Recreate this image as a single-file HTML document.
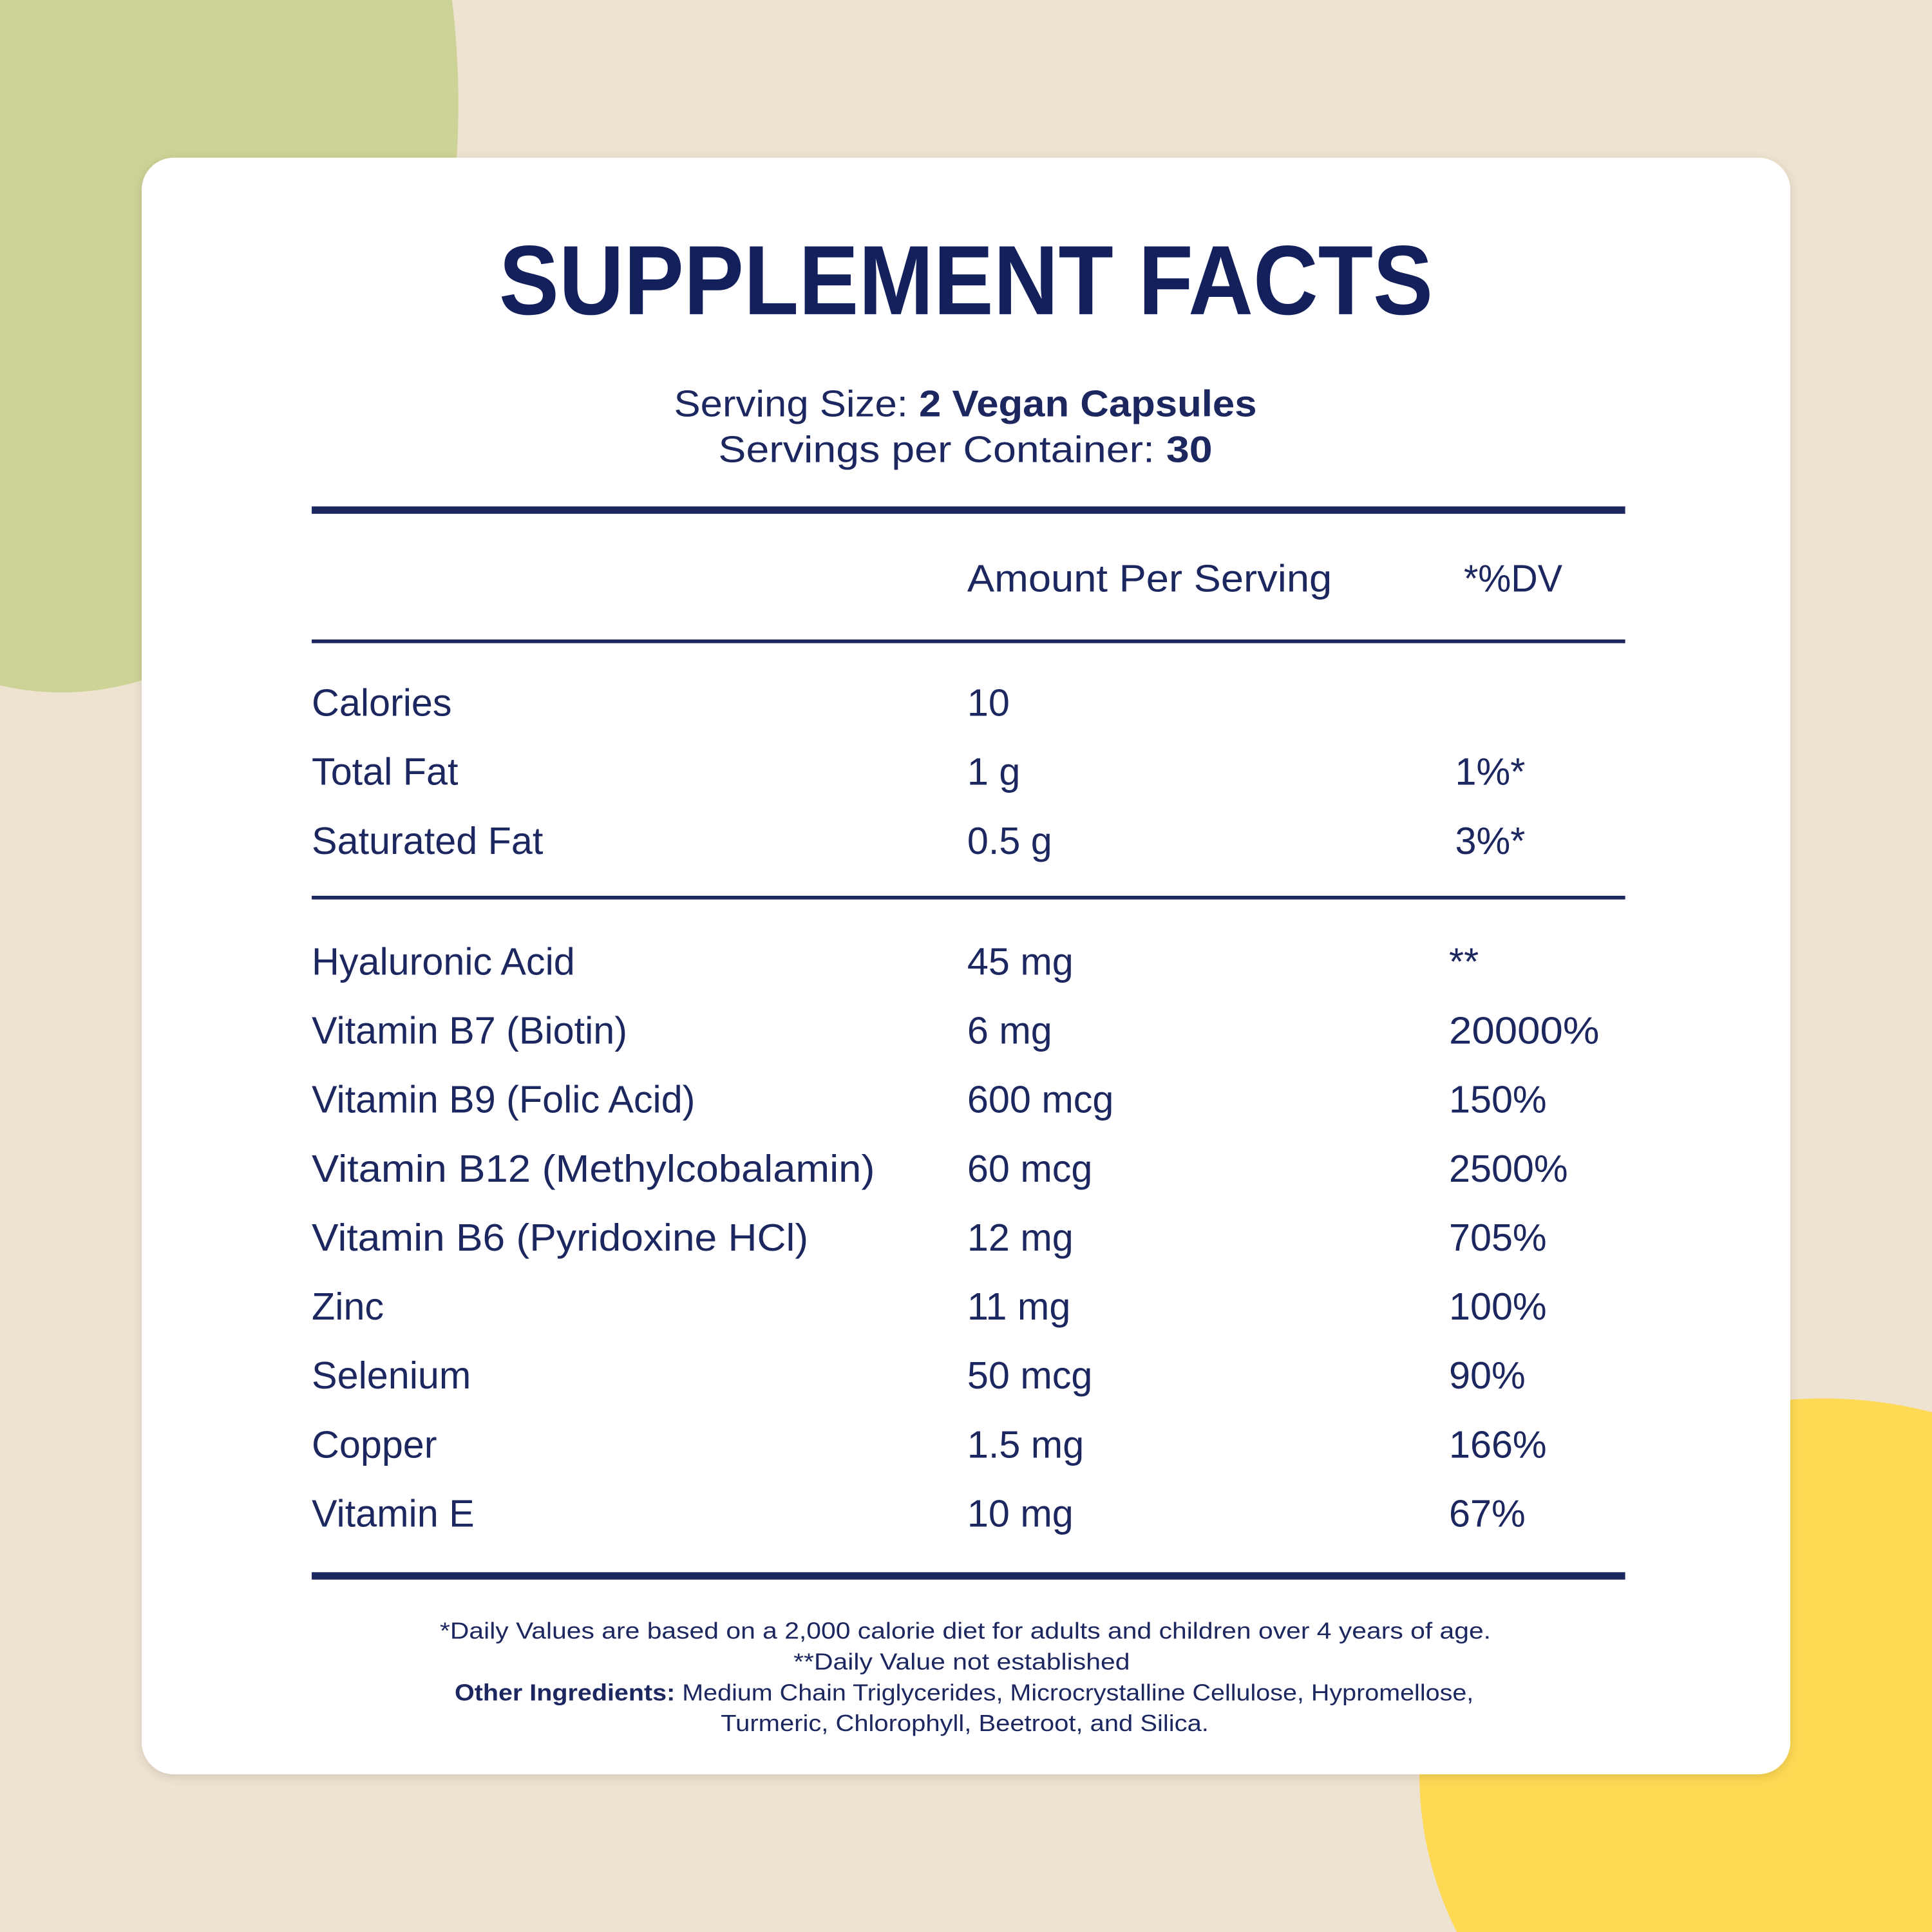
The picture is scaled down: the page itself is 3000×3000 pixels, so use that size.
<!DOCTYPE html>
<html><head><meta charset="utf-8"><style>
html,body{margin:0;padding:0;background:#EEE2D0;width:3000px;height:3000px;overflow:hidden;}
svg{display:block}
text{font-family:"Liberation Sans",sans-serif;fill:#1C2760;}
.r{font-size:31px}
.f{font-size:19px}
</style></head><body>
<svg width="3000" height="3000" viewBox="0 0 1568 1568" xmlns="http://www.w3.org/2000/svg">
<defs><filter id="sh" x="-5%" y="-5%" width="110%" height="110%"><feDropShadow dx="0" dy="2" stdDeviation="4" flood-color="#000" flood-opacity="0.12"/></filter></defs>
<rect width="1568" height="1568" fill="#EEE2D0"/>
<ellipse cx="50" cy="85" rx="322" ry="477" fill="#CDD296"/>
<ellipse cx="1480" cy="1440" rx="328" ry="305" fill="#FED954"/>
<rect x="115" y="128" width="1338" height="1312" rx="26" fill="#fff" filter="url(#sh)"/>
<text x="784" y="255" text-anchor="middle" font-size="80" font-weight="bold" textLength="758" lengthAdjust="spacingAndGlyphs" style="fill:#14205C">SUPPLEMENT FACTS</text>
<text x="547" y="338" font-size="30" textLength="473" lengthAdjust="spacingAndGlyphs">Serving Size: <tspan font-weight="bold">2 Vegan Capsules</tspan></text>
<text x="583" y="375" font-size="30" textLength="401" lengthAdjust="spacingAndGlyphs">Servings per Container: <tspan font-weight="bold">30</tspan></text>
<rect x="253" y="411" width="1066" height="6" fill="#1C2760"/>
<rect x="253" y="519" width="1066" height="3" fill="#1C2760"/>
<rect x="253" y="727" width="1066" height="3" fill="#1C2760"/>
<rect x="253" y="1276" width="1066" height="6" fill="#1C2760"/>
<text class="r" x="785" y="480" textLength="296" lengthAdjust="spacingAndGlyphs">Amount Per Serving</text>
<text class="r" x="1188" y="480" textLength="80" lengthAdjust="spacingAndGlyphs">*%DV</text>
<text class="r" x="253" y="581">Calories</text><text class="r" x="785" y="581">10</text>
<text class="r" x="253" y="637">Total Fat</text><text class="r" x="785" y="637">1 g</text><text class="r" x="1181" y="637">1%*</text>
<text class="r" x="253" y="693">Saturated Fat</text><text class="r" x="785" y="693">0.5 g</text><text class="r" x="1181" y="693">3%*</text>
<text class="r" x="253" y="791">Hyaluronic Acid</text><text class="r" x="785" y="791">45 mg</text><text class="r" x="1176" y="791">**</text>
<text class="r" x="253" y="847">Vitamin B7 (Biotin)</text><text class="r" x="785" y="847">6 mg</text><text class="r" x="1176" y="847" textLength="122" lengthAdjust="spacingAndGlyphs">20000%</text>
<text class="r" x="253" y="903">Vitamin B9 (Folic Acid)</text><text class="r" x="785" y="903">600 mcg</text><text class="r" x="1176" y="903">150%</text>
<text class="r" x="253" y="959" textLength="457" lengthAdjust="spacingAndGlyphs">Vitamin B12 (Methylcobalamin)</text><text class="r" x="785" y="959">60 mcg</text><text class="r" x="1176" y="959">2500%</text>
<text class="r" x="253" y="1015" textLength="403" lengthAdjust="spacingAndGlyphs">Vitamin B6 (Pyridoxine HCl)</text><text class="r" x="785" y="1015">12 mg</text><text class="r" x="1176" y="1015">705%</text>
<text class="r" x="253" y="1071">Zinc</text><text class="r" x="785" y="1071">11 mg</text><text class="r" x="1176" y="1071">100%</text>
<text class="r" x="253" y="1127">Selenium</text><text class="r" x="785" y="1127">50 mcg</text><text class="r" x="1176" y="1127">90%</text>
<text class="r" x="253" y="1183">Copper</text><text class="r" x="785" y="1183">1.5 mg</text><text class="r" x="1176" y="1183">166%</text>
<text class="r" x="253" y="1239">Vitamin E</text><text class="r" x="785" y="1239">10 mg</text><text class="r" x="1176" y="1239">67%</text>
<text class="f" x="357" y="1330" textLength="853" lengthAdjust="spacingAndGlyphs">*Daily Values are based on a 2,000 calorie diet for adults and children over 4 years of age.</text>
<text class="f" x="644" y="1355" textLength="273" lengthAdjust="spacingAndGlyphs">**Daily Value not established</text>
<text class="f" x="369" y="1380" textLength="827" lengthAdjust="spacingAndGlyphs"><tspan font-weight="bold">Other Ingredients:</tspan> Medium Chain Triglycerides, Microcrystalline Cellulose, Hypromellose,</text>
<text class="f" x="585" y="1405" textLength="396" lengthAdjust="spacingAndGlyphs">Turmeric, Chlorophyll, Beetroot, and Silica.</text>
</svg>
</body></html>
